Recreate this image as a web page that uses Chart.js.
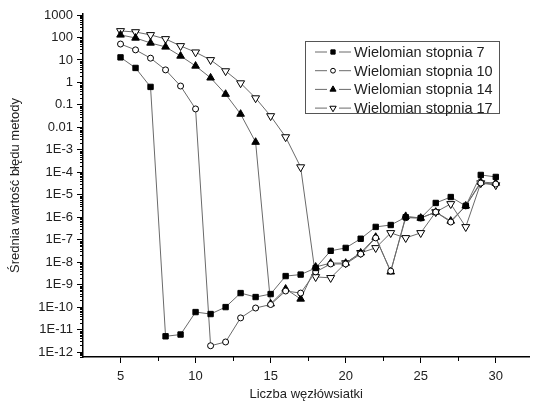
<!DOCTYPE html>
<html>
<head>
<meta charset="utf-8">
<script src="https://cdn.jsdelivr.net/npm/chart.js@4/dist/chart.umd.min.js"></script>
<style>
  html, body { margin: 0; padding: 0; background: #fff; }
</style>
</head>
<body>
<canvas id="ctx-error" width="535" height="403"></canvas>
<script>
// liczba węzłów siatki
const nodes = [5, 6, 7, 8, 9, 10, 11, 12, 13, 14, 15, 16, 17, 18, 19, 20, 21, 22, 23, 24, 25, 26, 27, 28, 29, 30];

// średni błąd metody dla kolejnych stopni wielomianu
const degree7 = [13, 4.4, 0.63, 5e-12, 6e-12, 6e-11, 4.9e-11, 1.0e-10, 4.2e-10, 2.8e-10, 3.8e-10, 2.4e-9, 2.8e-9,
  5.5e-9, 3.2e-8, 4.3e-8, 1.1e-7, 3.7e-7, 4.5e-7, 1.0e-6, 9.2e-7, 4.3e-6, 7.9e-6, 3.2e-6, 7.6e-5, 6.2e-5];
const degree10 = [51, 28, 12, 3.6, 0.69, 0.066, 1.9e-12, 2.8e-12, 3.3e-11, 9.1e-11, 1.3e-10, 5.2e-10, 4.2e-10,
  3.7e-9, 8.3e-9, 8.3e-9, 2.3e-8, 1.2e-7, 4.0e-9, 9.5e-7, 9.2e-7, 1.7e-6, 6.1e-7, 3.2e-6, 3.3e-5, 3.0e-5];
const degree14 = [130, 95, 57, 38, 15, 5.4, 1.6, 0.3, 0.039, 0.0022, 1.4e-10, 6.4e-10, 2.3e-10,
  6.1e-9, 9.1e-9, 9.1e-9, 2.6e-8, 1.3e-7, 3.7e-9, 1.1e-6, 9.2e-7, 1.7e-6, 6.8e-7, 3.2e-6, 3.7e-5, 3.3e-5];
const degree17 = [195, 175, 130, 86, 42, 22, 10, 3.2, 0.93, 0.2, 0.032, 0.0037, 1.7e-4,
  2.2e-9, 2.0e-9, 9.1e-9, 2.6e-8, 4.3e-8, 2.0e-7, 1.2e-7, 2.0e-7, 1.7e-6, 3.9e-6, 3.7e-7, 3.3e-5, 2.7e-5];

const seriesLabels = ['Wielomian stopnia 7', 'Wielomian stopnia 10', 'Wielomian stopnia 14', 'Wielomian stopnia 17'];

const xTickValues = [5, 10, 15, 20, 25, 30];
const xMinorTickValues = [7.5, 12.5, 17.5, 22.5, 27.5];
const yTickValues = [1e3, 1e2, 1e1, 1, 1e-1, 1e-2, 1e-3, 1e-4, 1e-5, 1e-6, 1e-7, 1e-8, 1e-9, 1e-10, 1e-11, 1e-12];
const yTickLabels = ['1000', '100', '10', '1', '0.1', '0.01', '1E-3', '1E-4', '1E-5', '1E-6', '1E-7', '1E-8',
  '1E-9', '1E-10', '1E-11', '1E-12'];

const FONT = "'Liberation Sans', Arial, sans-serif";
const LINE = '#6a6a6a';

const toPoints = (vals) => vals.map((v, i) => ({ x: nodes[i], y: v }));

const markers = [
  { pointStyle: 'rect', radius: 3.8, rotation: 0, fill: '#000' },
  { pointStyle: 'circle', radius: 3, rotation: 0, fill: '#fff' },
  { pointStyle: 'triangle', radius: 4.4, rotation: 0, fill: '#000' },
  { pointStyle: 'triangle', radius: 4.6, rotation: 180, fill: '#fff' }
];

const dset = [degree7, degree10, degree14, degree17].map((vals, i) => ({
  label: seriesLabels[i],
  data: toPoints(vals),
  borderColor: LINE,
  borderWidth: 1,
  pointStyle: markers[i].pointStyle,
  pointRadius: markers[i].radius,
  pointRotation: markers[i].rotation,
  pointBackgroundColor: markers[i].fill,
  pointBorderColor: '#000',
  pointBorderWidth: 1,
  tension: 0
}));

// krótkie podziałki pomocnicze na obu osiach
const minorTicks = {
  id: 'minorTicks',
  afterDraw(chart) {
    const { ctx, scales: { x, y } } = chart;
    ctx.save();
    ctx.strokeStyle = '#000';
    ctx.lineWidth = 1;
    ctx.beginPath();
    for (let e = -13; e <= 3; e++) {
      for (let m = 2; m <= 9; m++) {
        const v = m * Math.pow(10, e);
        if (v < y.min || v > y.max) continue;
        const py = Math.round(y.getPixelForValue(v)) + 0.5;
        ctx.moveTo(y.right - 3, py);
        ctx.lineTo(y.right, py);
      }
    }
    xMinorTickValues.forEach((v) => {
      const px = Math.round(x.getPixelForValue(v)) + 0.5;
      ctx.moveTo(px, x.top);
      ctx.lineTo(px, x.top + 4);
    });
    ctx.stroke();
    ctx.restore();
  }
};

// legenda w ramce w stylu "—■—"
const boxLegend = {
  id: 'boxLegend',
  afterDraw(chart) {
    const { ctx } = chart;
    const left = 305, top = 41, w = 194, h = 72, rowH = 18.7;
    ctx.save();
    ctx.strokeStyle = '#555';
    ctx.lineWidth = 1;
    ctx.strokeRect(left + 0.5, top + 0.5, w, h);
    ctx.font = '14.5px ' + FONT;
    ctx.textBaseline = 'middle';
    chart.data.datasets.forEach((ds, i) => {
      const cy = top + 11 + i * rowH;
      const mx = left + 28;
      ctx.strokeStyle = LINE;
      ctx.beginPath();
      ctx.moveTo(left + 10, cy); ctx.lineTo(mx - 6, cy);
      ctx.moveTo(mx + 6, cy); ctx.lineTo(mx + 18, cy);
      ctx.stroke();
      ctx.fillStyle = markers[i].fill;
      ctx.strokeStyle = '#000';
      Chart.helpers.drawPoint(ctx, {
        pointStyle: markers[i].pointStyle,
        radius: markers[i].radius * 0.8,
        rotation: markers[i].rotation,
        borderWidth: 1
      }, mx, cy);
      ctx.fillStyle = '#222';
      ctx.fillText(ds.label, left + 49, cy + 1);
    });
    ctx.restore();
  }
};

const chart = new Chart(document.getElementById('ctx-error'), {
  type: 'line',
  data: { datasets: dset },
  options: {
    responsive: false,
    animation: false,
    layout: { padding: { top: 14, right: 0, left: 0, bottom: 0 } },
    plugins: { legend: { display: false }, tooltip: { enabled: false } },
    scales: {
      x: {
        type: 'linear',
        min: 2.5,
        max: 32.24,
        afterFit: (scale) => { scale.height = 46; },
        afterBuildTicks: (scale) => { scale.ticks = xTickValues.map(v => ({ value: v })); },
        border: { display: true, color: '#000', width: 1.5 },
        grid: { display: true, drawOnChartArea: false, drawTicks: true, tickLength: 6, color: '#000' },
        ticks: { color: '#222', padding: 6, font: { family: FONT, size: 13 }, maxRotation: 0 },
        title: { display: true, text: 'Liczba węzłówsiatki', color: '#222', padding: { top: 0, bottom: 1 },
          font: { family: FONT, size: 13 } }
      },
      y: {
        type: 'logarithmic',
        min: 6e-13,
        max: 1108,
        afterFit: (scale) => { scale.width = 83; },
        afterBuildTicks: (scale) => { scale.ticks = yTickValues.map(v => ({ value: v })); },
        border: { display: true, color: '#000', width: 1.5 },
        grid: { display: true, drawOnChartArea: false, drawTicks: true, tickLength: 6, color: '#000' },
        ticks: {
          color: '#222', padding: 4, autoSkip: false,
          font: { family: FONT, size: 13 },
          callback: (value, index) => yTickLabels[index]
        },
        title: { display: true, text: 'Średnia wartość błędu metody', color: '#222', padding: { top: 8, bottom: 0 },
          font: { family: FONT, size: 13 } }
      }
    }
  },
  plugins: [minorTicks, boxLegend]
});
</script>
</body>
</html>
